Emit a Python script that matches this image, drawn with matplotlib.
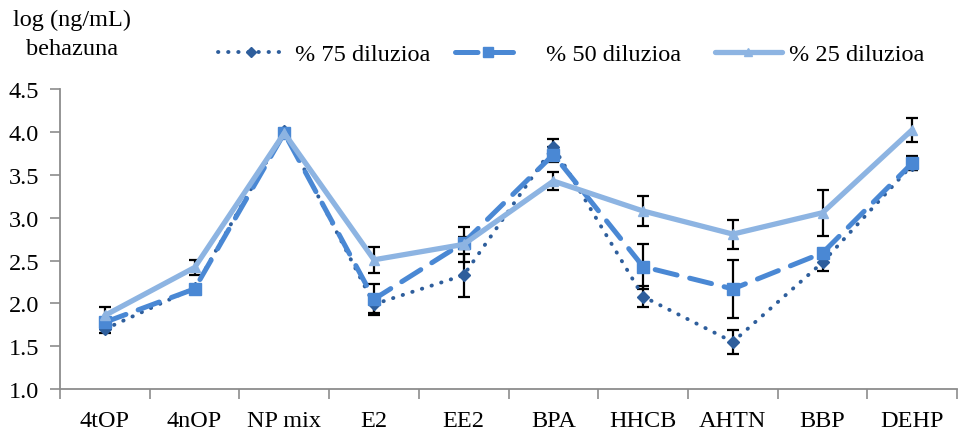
import matplotlib
matplotlib.use("Agg")
import matplotlib.pyplot as plt
import numpy as np

# Compounds on the x axis
categories = ["4tOP", "4nOP", "NP mix", "E2", "EE2", "BPA", "HHCB", "AHTN", "BBP", "DEHP"]

# log concentrations per dilution level
dil75 = [1.70, 2.18, 4.02, 1.99, 2.33, 3.83, 2.08, 1.55, 2.48, 3.62]
dil50 = [1.78, 2.17, 3.99, 2.05, 2.71, 3.74, 2.43, 2.17, 2.59, 3.64]
dil25 = [1.86, 2.42, 3.99, 2.51, 2.69, 3.43, 3.08, 2.81, 3.06, 4.03]

# error bar half-widths
err75 = [0.04, 0.02, 0.02, 0.10, 0.25, 0.09, 0.12, 0.145, 0.10, 0.06]
err50 = [0.05, 0.02, 0.02, 0.18, 0.07, 0.09, 0.26, 0.34, 0.03, 0.08]
err25 = [0.10, 0.09, 0.02, 0.15, 0.20, 0.11, 0.175, 0.17, 0.27, 0.14]

labels = ["% 75 diluzioa", "% 50 diluzioa", "% 25 diluzioa"]
ylabel_lines = "log (ng/mL)\nbehazuna"
yticks = [1.0, 1.5, 2.0, 2.5, 3.0, 3.5, 4.0, 4.5]

plt.rcParams["font.family"] = ["Liberation Serif", "DejaVu Serif"]
FS = 17.5

fig = plt.figure(figsize=(9.6, 4.35), dpi=100)
ax = fig.add_axes([0.0625, 0.1034, 0.9345, 0.6886])

x = np.arange(len(categories))

c75 = "#2E5E9C"
c50 = "#4A88D4"
c25 = "#8DB4E2"

# error bars underneath the series lines
for vals, errs in ((dil75, err75), (dil50, err50), (dil25, err25)):
    ax.errorbar(x, vals, yerr=errs, fmt="none", ecolor="black",
                elinewidth=1.6, capsize=4.3, capthick=1.6, zorder=2)

l75, = ax.plot(x, dil75, color=c75, lw=2.8, linestyle=(0, (0.1, 2.5)),
               dash_capstyle="round", marker="D", ms=6.5, mfc=c75, mec=c75,
               zorder=3, label=labels[0])
l50, = ax.plot(x, dil50, color=c50, lw=3.6, linestyle=(0, (4.5, 2.6)),
               dash_capstyle="round", marker="s", ms=8, mfc=c50, mec=c50,
               zorder=4, label=labels[1])
l25, = ax.plot(x, dil25, color=c25, lw=3.8, linestyle="-",
               solid_capstyle="round", marker="^", ms=7, mfc=c25, mec=c25,
               zorder=5, label=labels[2])

ax.set_xlim(-0.5, len(categories) - 0.5)
ax.set_ylim(1.0, 4.5)
ax.set_yticks(yticks)
ax.set_yticklabels([f"{v:.1f}" for v in yticks], fontsize=FS)

# category labels centred, tick marks at category boundaries
ax.set_xticks(np.arange(len(categories) + 1) - 0.5)
ax.set_xticklabels([])
ax.set_xticks(x, minor=True)
ax.set_xticklabels(categories, minor=True, fontsize=FS)
ax.tick_params(axis="x", which="minor", length=0, pad=15)
ax.tick_params(axis="x", which="major", length=7, width=1.2, color="#8c8c8c", direction="out")
ax.tick_params(axis="y", length=7, width=1.2, color="#8c8c8c", direction="out", pad=8)

for side in ("top", "right"):
    ax.spines[side].set_visible(False)
for side in ("left", "bottom"):
    ax.spines[side].set_color("#8c8c8c")
    ax.spines[side].set_linewidth(1.3)

fig.text(0.075, 0.978, ylabel_lines, ha="center", va="top", fontsize=FS,
         linespacing=1.5)

# one legend entry per series, laid out across the top
W, H = 960.0, 435.0
entries = [(l75, labels[0], 218, 0.42), (l50, labels[1], 455, 1.0), (l25, labels[2], 715, 0.3)]
for handle, text, x0, pad in entries:
    fig.legend(handles=[handle], labels=[text], loc="center left",
               bbox_to_anchor=(x0 / W, 1 - 55 / H), frameon=False, fontsize=FS,
               handlelength=2.75, handletextpad=pad, borderpad=0,
               borderaxespad=0, markerscale=0.85)

fig.savefig("out.png", dpi=100)
